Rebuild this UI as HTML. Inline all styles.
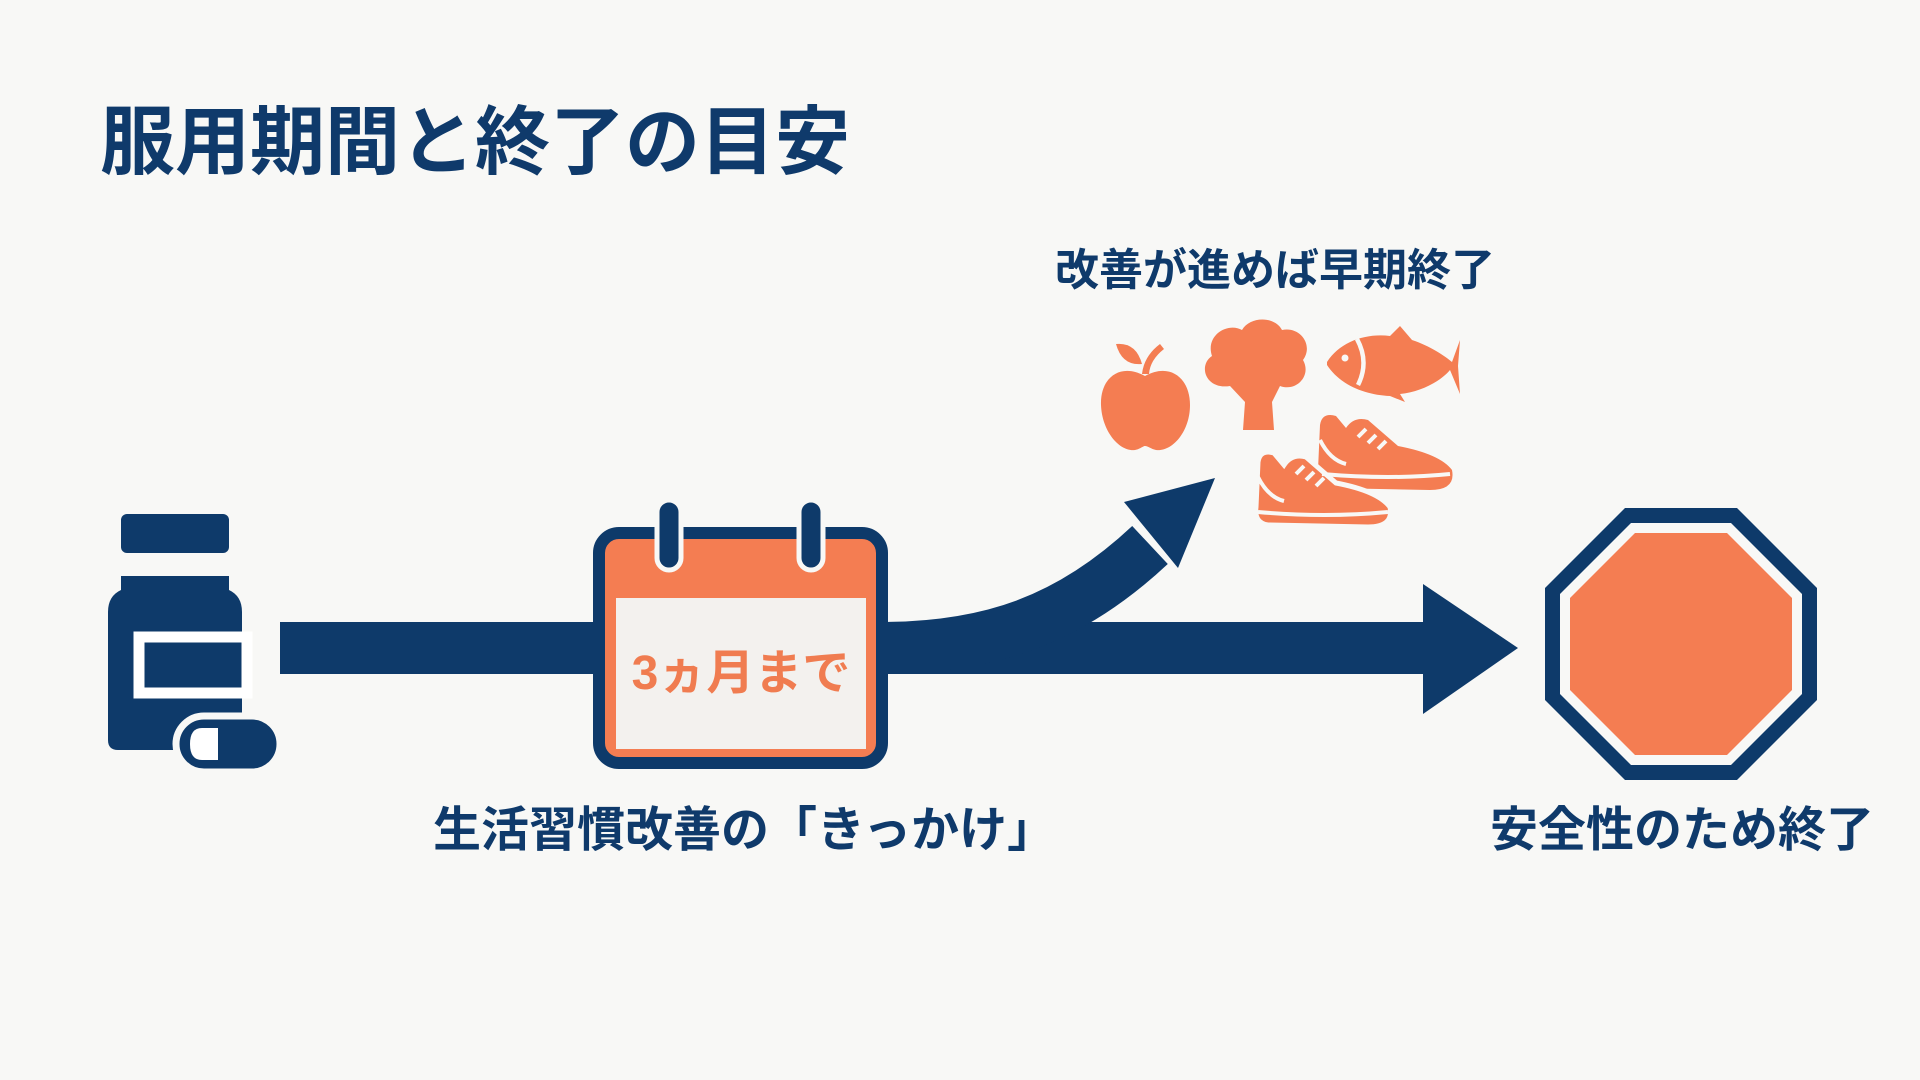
<!DOCTYPE html>
<html><head><meta charset="utf-8"><style>
html,body{margin:0;padding:0;background:#f8f8f6;}
svg{display:block}
text{font-family:"Liberation Sans","Noto Sans CJK JP",sans-serif;font-weight:bold;}
</style></head><body>
<svg width="1920" height="1080" viewBox="0 0 1920 1080" xmlns="http://www.w3.org/2000/svg">
<rect width="1920" height="1080" fill="#f8f8f6"/>
<text x="100" y="168" font-size="75" fill="#0f3a6b">服用期間と終了の目安</text>

<!-- bottle -->
<rect x="121" y="514" width="108" height="39" rx="6" fill="#0e3a6a"/>
<path d="M121 576 H229 V590 Q242 596 242 612 V740 Q242 750 232 750 H118 Q108 750 108 740 V612 Q108 596 121 590 Z" fill="#0e3a6a"/>
<rect x="139" y="637" width="108" height="56" fill="none" stroke="#fff" stroke-width="11"/>
<rect x="176" y="716" width="104" height="56" rx="28" fill="#0e3a6a" stroke="#f8f8f6" stroke-width="7"/>
<path d="M218 728 H202 Q190 728 190 744 Q190 760 202 760 H218 Z" fill="#fff"/>

<!-- main bar -->
<rect x="280" y="622" width="1150" height="52" fill="#0e3a6a"/>
<polygon points="1423,584 1518,648 1423,714" fill="#0e3a6a"/>

<!-- curved arrow -->
<path d="M880 648 C 990 648, 1070 620, 1150 545" fill="none" stroke="#0e3a6a" stroke-width="52"/>
<polygon points="1124,502 1215,478 1178,568" fill="#0e3a6a"/>

<!-- calendar -->
<rect x="599" y="533" width="283" height="230" rx="20" fill="#f47d52" stroke="#0e3a6a" stroke-width="12"/>
<rect x="616" y="598" width="250" height="151" fill="#f3f1ee"/>
<rect x="657" y="500" width="24" height="70" rx="12" fill="#0e3a6a" stroke="#f8f8f6" stroke-width="5"/>
<rect x="799" y="500" width="24" height="70" rx="12" fill="#0e3a6a" stroke="#f8f8f6" stroke-width="5"/>
<text x="741" y="689" font-size="48" fill="#f07c50" text-anchor="middle">3ヵ月まで</text>

<!-- labels -->
<text x="1055" y="285" font-size="44" fill="#0f3a6b">改善が進めば早期終了</text>
<text x="433" y="846" font-size="48" fill="#0f3a6b">生活習慣改善の「きっかけ」</text>
<text x="1490" y="846" font-size="48" fill="#0f3a6b">安全性のため終了</text>

<!-- food icons -->
<g fill="#f47d52">
  <path d="M1145 376 C1120 362 1100 378 1101 405 C1102 432 1120 452 1135 450 C1140 449 1143 446 1145 446 C1148 446 1151 449 1156 450 C1172 452 1190 432 1190 405 C1190 378 1170 362 1145 376 Z"/>
  <path d="M1142 374 Q1144 356 1160 344 L1164 349 Q1150 360 1149 374 Z"/>
  <path d="M1116 344 Q1136 342 1142 364 Q1122 366 1116 344 Z"/>
  <path d="M1230 386 C1205 390 1198 365 1212 356 C1205 335 1228 322 1242 330 C1250 316 1275 316 1282 330 C1300 326 1314 345 1303 360 C1312 376 1296 392 1280 386 L1272 402 L1274 430 L1243 430 L1245 402 Z"/>
  <path d="M1327 362 C1340 342 1365 333 1390 336 L1400 326 L1412 340 C1430 346 1445 356 1452 362 L1460 340 L1458 366 L1460 394 L1450 370 C1440 382 1420 392 1400 394 L1405 402 L1390 396 C1365 395 1340 385 1327 365 Z"/>
  <!-- back shoe -->
  <path d="M1320 425 Q1322 412 1336 416 L1346 428 Q1354 416 1368 420 L1398 446 Q1440 454 1452 470 Q1456 490 1430 490 L1330 488 Q1316 486 1318 470 Z"/>
  <!-- front shoe -->
  <path d="M1258 462 Q1260 449 1274 453 L1284 465 Q1292 453 1306 457 L1336 483 Q1378 491 1390 507 Q1394 527 1368 527 L1268 525 Q1254 523 1256 507 Z" stroke="#f8f8f6" stroke-width="5"/>
</g>
<g fill="#f8f8f6">
  <circle cx="1345" cy="358" r="3.5"/>
  <path d="M1355 340 Q1367 362 1356 384 L1360 386 Q1372 362 1359 338 Z"/>
</g>
<g stroke="#f8f8f6" stroke-width="4" fill="none">
  <path d="M1322 474 Q1390 480 1450 474"/>
  <path d="M1258 512 Q1325 518 1388 512"/>
  <path d="M1320 440 Q1330 460 1346 464"/>
  <path d="M1258 477 Q1268 497 1284 501"/>
  <path d="M1296 474 L1304 466 M1306 480 L1314 472 M1316 486 L1324 478"/>
  <path d="M1358 437 L1366 429 M1368 443 L1376 435 M1378 449 L1386 441"/>
</g>

<!-- octagon -->
<polygon points="1625,508 1737,508 1817,588 1817,700 1737,780 1625,780 1545,700 1545,588" fill="#0e3a6a"/>
<polygon points="1631,523 1731,523 1802,594 1802,694 1731,765 1631,765 1560,694 1560,594" fill="#f8f8f6"/>
<polygon points="1635,533 1727,533 1792,598 1792,690 1727,755 1635,755 1570,690 1570,598" fill="#f47d52"/>
</svg>
</body></html>
